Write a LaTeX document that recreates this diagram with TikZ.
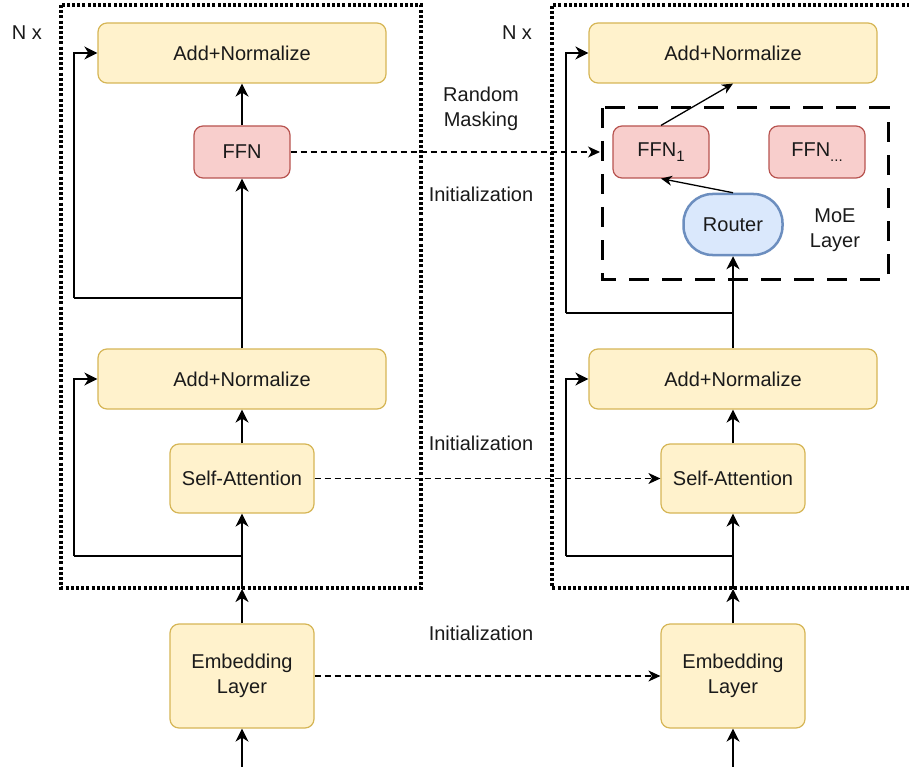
\documentclass[tikz,border=0pt]{standalone}
\usepackage{fontspec}
\setmainfont{Liberation Sans}
\usetikzlibrary{arrows.meta}
\definecolor{yfill}{HTML}{FFF2CC}
\definecolor{ydraw}{HTML}{D6B656}
\definecolor{rfill}{HTML}{F8CECC}
\definecolor{rdraw}{HTML}{B85450}
\definecolor{bfill}{HTML}{DAE8FC}
\definecolor{bdraw}{HTML}{6C8EBF}
\definecolor{txt}{HTML}{1A1A1A}
\newcommand{\mysub}[1]{\raisebox{-5pt}{\fontsize{15}{15}\selectfont #1}}
\begin{document}
\begin{tikzpicture}[x=1pt,y=-1pt,
  every node/.style={font=\fontsize{20}{25}\selectfont, text=txt, inner sep=0pt},
  ybox/.style={draw=ydraw, fill=yfill, line width=1.2pt, rounded corners=9pt, align=center},
  rbox/.style={draw=rdraw, fill=rfill, line width=1.2pt, rounded corners=9pt, minimum width=96pt, minimum height=52pt},
  conn/.style={line width=1.8pt, -{Stealth[length=13pt,width=13pt,inset=4pt]}},
  plain/.style={line width=1.8pt},
  thinconn/.style={line width=1.3pt, -{Stealth[length=11pt,width=10pt,inset=3.5pt]}},
  dconn/.style={line width=1.2pt, dash pattern=on 6pt off 4pt, -{Stealth[length=12pt,width=11pt,inset=3.5pt]}},
  dotbox/.style={line width=3.2pt, dash pattern=on 3pt off 2.2pt},
  moebox/.style={line width=3pt, dash pattern=on 20pt off 13pt},
  lbl/.style={align=center}
]
\useasboundingbox (0,0) rectangle (909,767);
\fill[white] (0,0) rectangle (909,767);

% container boxes
\draw[dotbox] (61,5) rectangle (421,588);
\draw[dotbox] (915,5) -- (552,5) -- (552,588) -- (915,588);
\draw[moebox] (602,108) rectangle (888,279);
\node (moe) at (745,193.5) [minimum width=286pt, minimum height=171pt] {};

% labels
\node (nxL) at (27,33) {N x};
\node (nxR) at (517,33) {N x};
\node[lbl] (rm) at (481,109) {Random\\Masking};
\node (init1) at (481,194) {Initialization};
\node (init2) at (481,443) {Initialization};
\node (init3) at (481,633) {Initialization};
\node[lbl] (moelbl) at (835,230) {MoE\\Layer};

% left column
\node[ybox, minimum width=288pt, minimum height=60pt] (anL) at (242,53) {Add+Normalize};
\node[rbox] (ffnL) at (242,152) {FFN};
\node[ybox, minimum width=288pt, minimum height=60pt] (an2L) at (242,379) {Add+Normalize};
\node[ybox, minimum width=144pt, minimum height=69pt] (saL) at (242,478.5) {Self-Attention};
\node[ybox, minimum width=144pt, minimum height=104pt] (embL) at (242,676) {Embedding\\Layer};

% right column
\node[ybox, minimum width=288pt, minimum height=60pt] (anR) at (733,53) {Add+Normalize};
\node[rbox] (ffn1) at (661,152) {FFN\mysub{1}};
\node[rbox] (ffnx) at (817,152) {FFN\mysub{...}};
\node[draw=bdraw, fill=bfill, line width=2.5pt, rounded corners=29pt, minimum width=99pt, minimum height=61pt] (router) at (733,224.5) {Router};
\node[ybox, minimum width=288pt, minimum height=60pt] (an2R) at (733,379) {Add+Normalize};
\node[ybox, minimum width=144pt, minimum height=69pt] (saR) at (733,478.5) {Self-Attention};
\node[ybox, minimum width=144pt, minimum height=104pt] (embR) at (733,676) {Embedding\\Layer};

% coordinates
\coordinate (inL) at (242,767);
\coordinate (inR) at (733,767);
\coordinate (entL) at (242,589);
\coordinate (entR) at (733,589);
\coordinate (sp1L) at (242,556);
\coordinate (c1L) at (74,556);
\coordinate (sp2L) at (242,298);
\coordinate (c2L) at (74,298);
\coordinate (sp1R) at (733,556);
\coordinate (c1R) at (566,556);
\coordinate (sp2R) at (733,313);
\coordinate (c2R) at (566,313);
\coordinate (moeIn) at (600,152);

% left connectors
\draw[conn] (inL) -- (embL.south);
\draw[conn] (embL.north) -- (entL);
\draw[conn] (entL) -- (saL.south);
\draw[conn] (saL.north) -- (an2L.south);
\draw[plain] (sp1L) -- (c1L);
\draw[conn] (c1L) |- (an2L.west);
\draw[conn] (an2L.north) -- (ffnL.south);
\draw[plain] (sp2L) -- (c2L);
\draw[conn] (c2L) |- (anL.west);
\draw[conn] (ffnL.north) -- (anL.south);

% right connectors
\draw[conn] (inR) -- (embR.south);
\draw[conn] (embR.north) -- (entR);
\draw[conn] (entR) -- (saR.south);
\draw[conn] (saR.north) -- (an2R.south);
\draw[plain] (sp1R) -- (c1R);
\draw[conn] (c1R) |- (an2R.west);
\draw[conn] (an2R.north) -- (router.south);
\draw[plain] (sp2R) -- (c2R);
\draw[conn] (c2R) |- (anR.west);
\draw[thinconn] (router.north) -- (ffn1.south);
\draw[thinconn] (ffn1.north) -- (anR.south);

% initialization connectors
\draw[dconn] (ffnL.east) -- (moeIn);
\draw[dconn] (saL.east) -- (saR.west);
\draw[dconn] (embL.east) -- (embR.west);
\end{tikzpicture}
\end{document}
